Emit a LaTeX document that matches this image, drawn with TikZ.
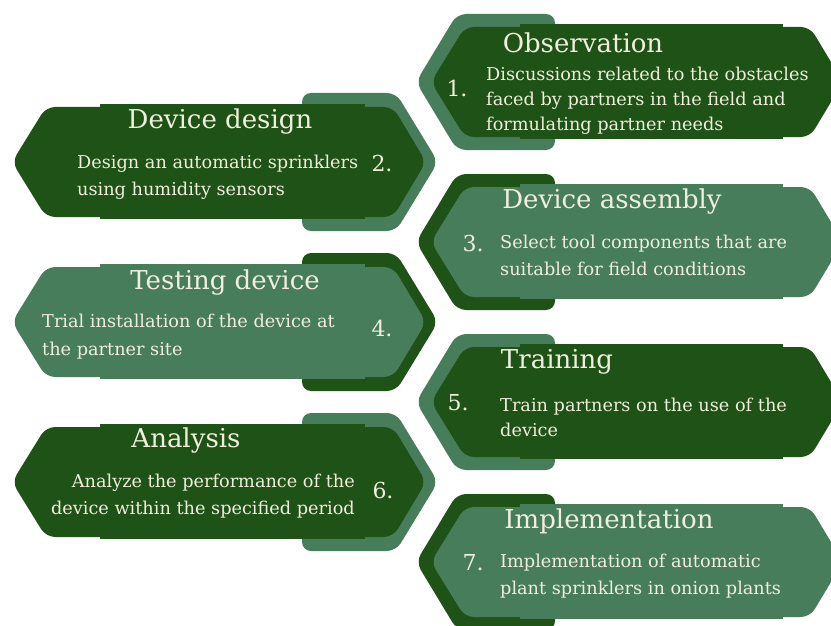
\documentclass[tikz,border=0pt]{standalone}
\usepackage{fontspec}
\setmainfont{DejaVu Serif}
\usepackage{tikz}
\definecolor{darkleaf}{HTML}{1F5216}
\definecolor{lightleaf}{HTML}{477D5A}
\definecolor{cream}{HTML}{F0EEDC}

\begin{document}
\begin{tikzpicture}[x=1pt,y=-1pt,
	banner/.style={rounded corners=9pt},
	title/.style={text=cream,inner sep=0pt,font=\fontsize{26}{30}\selectfont},
	body/.style={text=cream,inner sep=0pt,align=left,font=\fontsize{17.7}{27.5}\selectfont},
	num/.style={text=cream,inner sep=0pt,font=\fontsize{22}{26}\selectfont}]

	\useasboundingbox (0,0) rectangle (831,626);
	\clip (0,0) rectangle (831,626);

	% 1. Observation
	\fill[lightleaf,banner] (416,82) -- (457,14) -- (555,14) -- (555,150) -- (457,150) -- cycle;
	\fill[darkleaf,banner] (431,82) -- (465,27) -- (810,27) -- (843,82) -- (810,137) -- (465,137) -- cycle;
	\fill[darkleaf] (520,24) rectangle (783,139);
	\node[title] (title1) at (583,43) {Observation};
	\node[body,anchor=west,font=\fontsize{17.7}{25}\selectfont] (body1) at (486,101) {Discussions related to the obstacles\\faced by partners in the field and\\formulating partner needs};
	\node[num] (num1) at (457,88) {1.};

	% 2. Device design
	\fill[lightleaf,banner] (438,162) -- (396,93) -- (302,93) -- (302,231) -- (396,231) -- cycle;
	\fill[darkleaf,banner] (12,162) -- (46,107) -- (393,107) -- (426,162) -- (393,217) -- (46,217) -- cycle;
	\fill[darkleaf] (100,104) rectangle (365,219);
	\node[title] (title2) at (220,122) {Device design};
	\node[body,anchor=west] (body2) at (77,177) {Design an automatic sprinklers\\using humidity sensors};
	\node[num] (num2) at (382,163) {2.};

	% 3. Device assembly
	\fill[darkleaf,banner] (416,242) -- (457,174) -- (555,174) -- (555,310) -- (457,310) -- cycle;
	\fill[lightleaf,banner] (431,242) -- (465,187) -- (810,187) -- (843,242) -- (810,297) -- (465,297) -- cycle;
	\fill[lightleaf] (520,184) rectangle (783,299);
	\node[title] (title3) at (612,202) {Device assembly};
	\node[body,anchor=west] (body3) at (500,255.5) {Select tool components that are\\suitable for field conditions};
	\node[num] (num3) at (473,243) {3.};

	% 4. Testing device
	\fill[darkleaf,banner] (438,322) -- (396,253) -- (302,253) -- (302,391) -- (396,391) -- cycle;
	\fill[lightleaf,banner] (12,322) -- (46,267) -- (393,267) -- (426,322) -- (393,377) -- (46,377) -- cycle;
	\fill[lightleaf] (100,264) rectangle (365,379);
	\node[title] (title4) at (225,283) {Testing device};
	\node[body,anchor=west] (body4) at (42,336.5) {Trial installation of the device at\\the partner site};
	\node[num] (num4) at (382,328) {4.};

	% 5. Training
	\fill[lightleaf,banner] (416,402) -- (457,334) -- (555,334) -- (555,470) -- (457,470) -- cycle;
	\fill[darkleaf,banner] (431,402) -- (465,347) -- (810,347) -- (843,402) -- (810,457) -- (465,457) -- cycle;
	\fill[darkleaf] (520,344) rectangle (783,459);
	\node[title] (title5) at (557,362) {Training};
	\node[body,anchor=west,font=\fontsize{17.7}{25}\selectfont] (body5) at (500,417) {Train partners on the use of the\\device};
	\node[num] (num5) at (458,403) {5.};

	% 6. Analysis
	\fill[lightleaf,banner] (438,482) -- (396,413) -- (302,413) -- (302,551) -- (396,551) -- cycle;
	\fill[darkleaf,banner] (12,482) -- (46,427) -- (393,427) -- (426,482) -- (393,537) -- (46,537) -- cycle;
	\fill[darkleaf] (100,424) rectangle (365,539);
	\node[title] (title6) at (186,441) {Analysis};
	\node[body,anchor=east,align=right] (body6) at (355,496) {Analyze the performance of the\\device within the specified period};
	\node[num] (num6) at (383,490) {6.};

	% 7. Implementation
	\fill[darkleaf,banner] (416,562) -- (457,494) -- (555,494) -- (555,630) -- (457,630) -- cycle;
	\fill[lightleaf,banner] (431,562) -- (465,507) -- (810,507) -- (843,562) -- (810,617) -- (465,617) -- cycle;
	\fill[lightleaf] (520,504) rectangle (783,619);
	\node[title] (title7) at (609,521) {Implementation};
	\node[body,anchor=west] (body7) at (500,576) {Implementation of automatic\\plant sprinklers in onion plants};
	\node[num] (num7) at (473,563) {7.};

\end{tikzpicture}
\end{document}
